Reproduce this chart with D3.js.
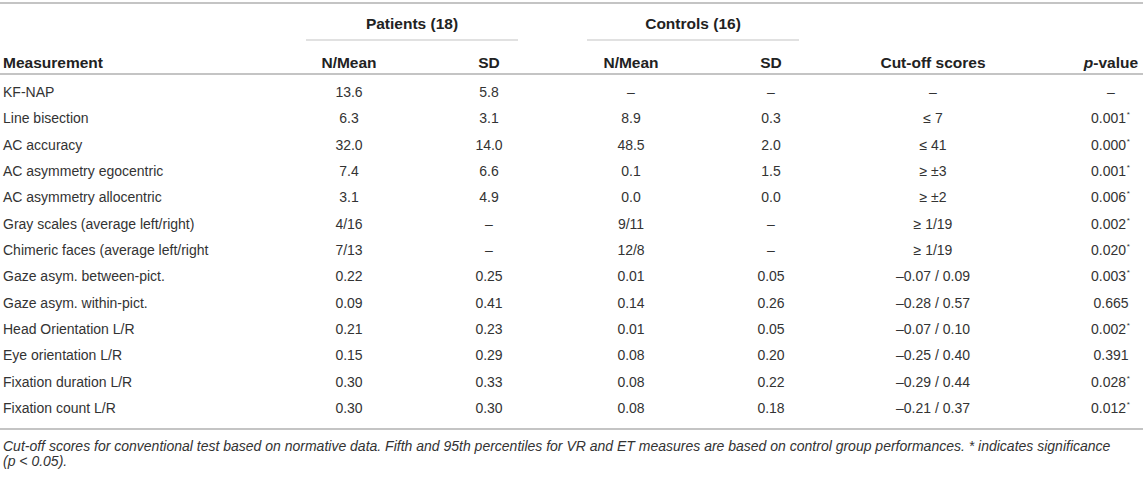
<!DOCTYPE html>
<html>
<head>
<meta charset="utf-8">
<script src="https://cdn.jsdelivr.net/npm/d3@7"></script>
<style>
  html, body { margin: 0; padding: 0; background: #fff; }
  svg { display: block; font-family: "Liberation Sans", Arial, Helvetica, sans-serif; }
</style>
</head>
<body>
<svg id="chart" width="1143" height="477"></svg>
<script>
// ---- data ----
const measurements = [
  "KF-NAP", "Line bisection", "AC accuracy", "AC asymmetry egocentric",
  "AC asymmetry allocentric", "Gray scales (average left/right)",
  "Chimeric faces (average left/right", "Gaze asym. between-pict.",
  "Gaze asym. within-pict.", "Head Orientation L/R", "Eye orientation L/R",
  "Fixation duration L/R", "Fixation count L/R"
];
const patientsMean = ["13.6","6.3","32.0","7.4","3.1","4/16","7/13","0.22","0.09","0.21","0.15","0.30","0.30"];
const patientsSD   = ["5.8","3.1","14.0","6.6","4.9","–","–","0.25","0.41","0.23","0.29","0.33","0.30"];
const controlsMean = ["–","8.9","48.5","0.1","0.0","9/11","12/8","0.01","0.14","0.01","0.08","0.08","0.08"];
const controlsSD   = ["–","0.3","2.0","1.5","0.0","–","–","0.05","0.26","0.05","0.20","0.22","0.18"];
const cutoffs      = ["–","≤ 7","≤ 41","≥ ±3","≥ ±2","≥ 1/19","≥ 1/19","–0.07 / 0.09","–0.28 / 0.57","–0.07 / 0.10","–0.25 / 0.40","–0.29 / 0.44","–0.21 / 0.37"];
const pValues      = ["–","0.001","0.000","0.001","0.006","0.002","0.020","0.003","0.665","0.002","0.391","0.028","0.012"];
const significant  = [false,true,true,true,true,true,true,true,false,true,false,true,true];

const groupHeaders = ["Patients (18)", "Controls (16)"];
const columnHeaders = ["Measurement", "N/Mean", "SD", "N/Mean", "SD", "Cut-off scores", "p-value"];
const footnoteLines = [
  "Cut-off scores for conventional test based on normative data. Fifth and 95th percentiles for VR and ET measures are based on control group performances. * indicates significance",
  "(p < 0.05)."
];

// ---- layout ----
const W = 1143;
const svg = d3.select("#chart");
const colKeys = ["meas","pm","psd","cm","csd","cut","p"];
const x = d3.scaleOrdinal().domain(colKeys).range([3, 349, 489, 631, 771, 933, 1111]);
const y = d3.scalePoint().domain(measurements).range([92, 408]);

const ruleColor = "#c4c4c4";
const textColor = "#333";
const headColor = "#222";

// rules
function rule(y0, x0, x1, w) {
  svg.append("line").attr("x1", x0).attr("x2", x1).attr("y1", y0).attr("y2", y0)
    .attr("stroke", ruleColor).attr("stroke-width", w);
}
rule(3, 0, W, 2);
rule(74, 0, W, 2);
rule(429, 0, W, 2);
rule(40, 306, 518, 1.2);
rule(40, 587, 799, 1.2);

// group headers
const groupX = [412, 693];
svg.selectAll("text.group").data(groupHeaders).join("text")
  .attr("class", "group")
  .attr("x", (d, i) => groupX[i]).attr("y", 28.5)
  .attr("text-anchor", "middle")
  .attr("font-size", 15.5).attr("font-weight", "bold").attr("fill", headColor)
  .text(d => d);

// column headers
const hdr = svg.selectAll("text.colhead").data(columnHeaders).join("text")
  .attr("class", "colhead")
  .attr("x", (d, i) => x(colKeys[i])).attr("y", 67.5)
  .attr("text-anchor", (d, i) => i === 0 ? "start" : "middle")
  .attr("font-size", 15.5).attr("font-weight", "bold").attr("fill", headColor);
hdr.each(function(d) {
  const t = d3.select(this);
  if (d === "p-value") {
    t.append("tspan").attr("font-style", "italic").text("p");
    t.append("tspan").text("-value");
  } else t.text(d);
});

// body rows
const rows = svg.selectAll("g.row").data(measurements).join("g")
  .attr("class", "row")
  .attr("transform", d => `translate(0,${y(d) + 5})`);

const cols = [
  {key: "meas", vals: measurements, anchor: "start"},
  {key: "pm", vals: patientsMean, anchor: "middle"},
  {key: "psd", vals: patientsSD, anchor: "middle"},
  {key: "cm", vals: controlsMean, anchor: "middle"},
  {key: "csd", vals: controlsSD, anchor: "middle"},
  {key: "cut", vals: cutoffs, anchor: "middle"}
];
rows.each(function(d, i) {
  const g = d3.select(this);
  cols.forEach(c => {
    g.append("text").attr("x", x(c.key)).attr("y", 0)
      .attr("text-anchor", c.anchor).attr("font-size", 14).attr("fill", textColor)
      .text(c.vals[i]);
  });
  const pt = g.append("text").attr("x", x("p")).attr("y", 0)
    .attr("text-anchor", "middle").attr("font-size", 14).attr("fill", textColor)
    .text(pValues[i]);
  if (significant[i]) {
    pt.attr("x", x("p") - 2.5);
    const bb = pt.node().getBBox();
    g.append("text").attr("x", bb.x + bb.width + 0.5).attr("y", -6)
      .attr("font-size", 8).attr("fill", textColor).text("*");
  }
});

// footnote
const fnY = [451, 466];
const fn = svg.selectAll("text.fn").data(footnoteLines).join("text")
  .attr("class", "fn")
  .attr("x", 3).attr("y", (d, i) => fnY[i])
  .attr("font-size", 14).attr("font-style", "italic").attr("fill", textColor)
  .text(d => d);
let fs = 14;
const first = fn.nodes()[0];
while (first.getComputedTextLength() > W - 6 && fs > 8) {
  fs -= 0.1; fn.attr("font-size", fs);
}
</script>
</body>
</html>
